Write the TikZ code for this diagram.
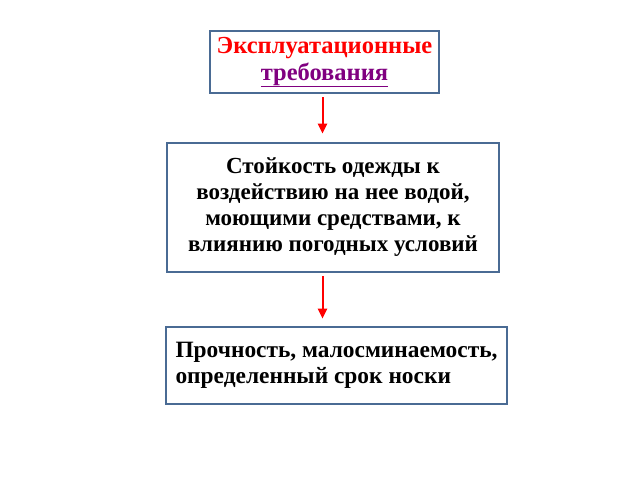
\documentclass[tikz,border=0pt]{standalone}
\usepackage{fontspec}
\setmainfont{Liberation Serif}
\usepackage{tikz}
\usetikzlibrary{arrows.meta}
\definecolor{boxblue}{HTML}{4A6B94}
\definecolor{reqred}{HTML}{FF0000}
\definecolor{reqpurple}{HTML}{800080}

\begin{document}
\begin{tikzpicture}[x=1pt,y=-1pt,
    reqbox/.style={draw=boxblue, line width=2.7pt, fill=white, rectangle, inner sep=0pt,
                   font=\fontsize{23}{26}\selectfont\bfseries},
    flow/.style={draw=reqred, line width=2pt, -{Triangle[width=9pt,length=10pt]}}]
    \useasboundingbox (0,0) rectangle (640,480);
    \node[reqbox, minimum width=229pt, minimum height=62pt, align=center,
          font=\fontsize{24.5}{27}\selectfont\bfseries] (req) at (324.5,62)
          {\textcolor{reqred}{Эксплуатационные}\\ \textcolor{reqpurple}{\underline{требования}}};
    \node[reqbox, minimum width=332pt, minimum height=129pt, align=center] (resist) at (333,207.5)
          {Стойкость одежды к\\ воздействию на нее водой,\\ моющими средствами, к\\ влиянию погодных условий};
    \node[reqbox, minimum width=341pt, minimum height=77pt, align=left,
          font=\fontsize{23.4}{25.5}\selectfont\bfseries] (wear) at (336.5,365.5)
          {Прочность, малосминаемость,\\ определенный срок носки};
    \coordinate (axis) at (322.5,0);
    \draw[flow, shorten <=3pt, shorten >=8pt] (req.south -| axis) -- (resist.north -| axis);
    \draw[flow, shorten <=3pt, shorten >=7pt] (resist.south -| axis) -- (wear.north -| axis);
\end{tikzpicture}
\end{document}
